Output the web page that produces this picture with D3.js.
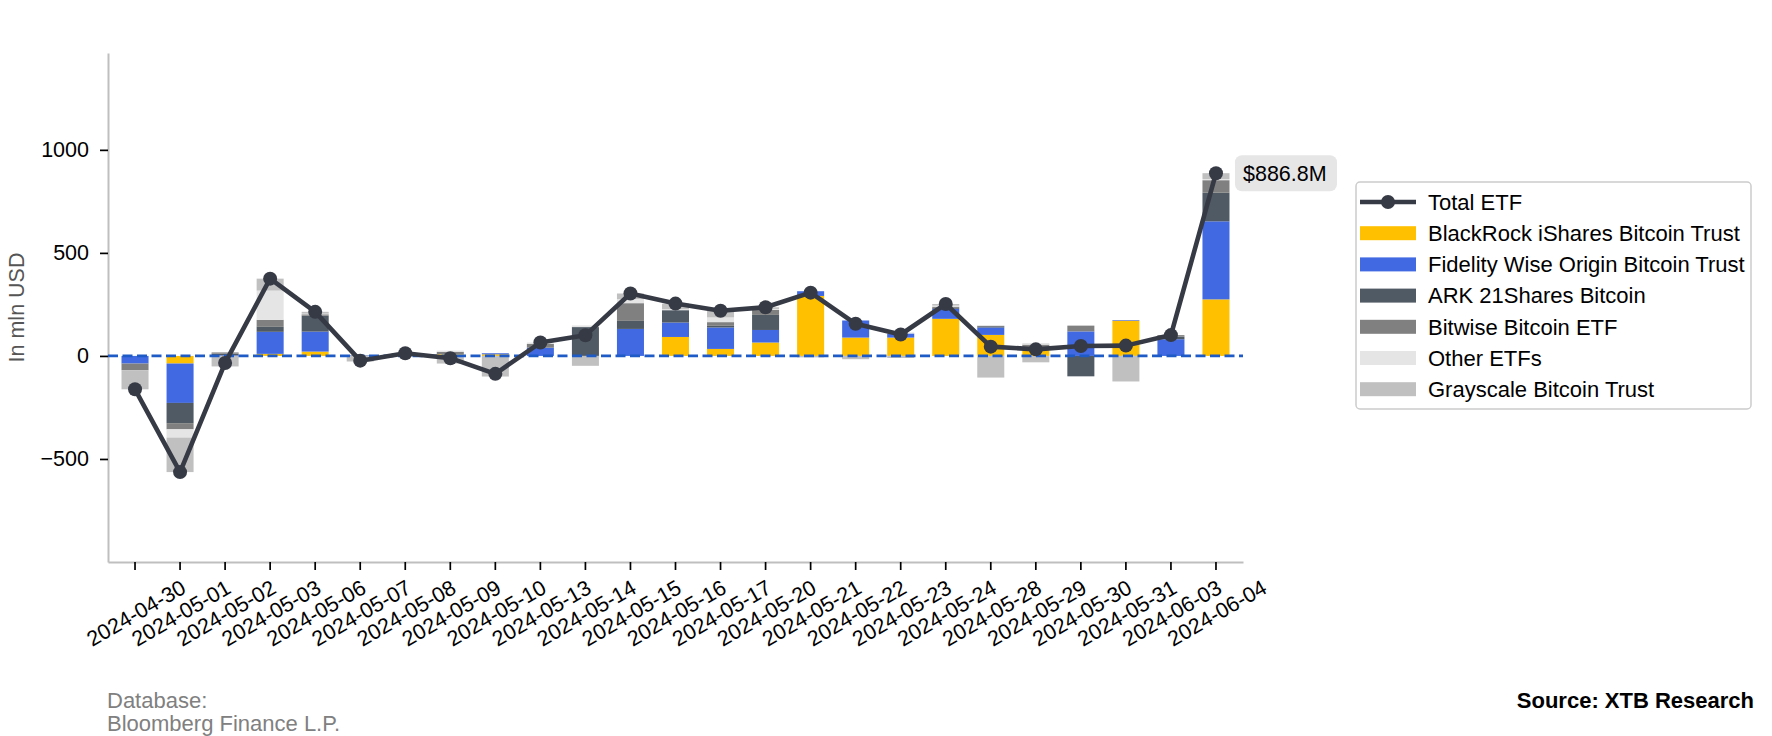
<!DOCTYPE html>
<html>
<head>
<meta charset="utf-8">
<script src="https://cdn.jsdelivr.net/npm/d3@7"></script>
<style>
  body { margin: 0; background: #fff; }
  svg { display: block; font-family: "Liberation Sans", Arial, sans-serif; }
</style>
</head>
<body>
<svg id="chart"></svg>
<script>
// Daily ETF flows, in mln USD
const dates = [
  "2024-04-30", "2024-05-01", "2024-05-02", "2024-05-03", "2024-05-06",
  "2024-05-07", "2024-05-08", "2024-05-09", "2024-05-10", "2024-05-13",
  "2024-05-14", "2024-05-15", "2024-05-16", "2024-05-17", "2024-05-20",
  "2024-05-21", "2024-05-22", "2024-05-23", "2024-05-24", "2024-05-28",
  "2024-05-29", "2024-05-30", "2024-05-31", "2024-06-03", "2024-06-04"
];
const blackrock = [0, -36.9, 0, 10, 21, 0, 0, 8, 8, 0, 0, 0, 92, 34, 65, 291, 89, 89, 180, 102, 40, 0, 171, 0, 274.4];
const fidelity  = [-37, -191.1, 3, 107, 97, 2, 5, 0, 5, 40, 0, 131, 70, 104, 61, 23, 83, 20, 49, 36, 0, 119, 3, 81, 378.7];
const ark       = [0, -98.1, 8, 24, 78, 0, 4, 0, 0, 0, 140, 39, 60, 8, 73, 0, 0, 0, 4, 6, 0, -99, 0, 13, 138.7];
const bitwise   = [-32, -30, 6, 34, 6, 2, 4, 12, 0, 18, 0, 86, 0, 18, 24, 0, 0, 0, 6, 2, 15, 28, 0, 7, 61.0];
const otherEtfs = [0, -40, 0, 142, 3, 0, 0, 6, 0, 7, 8, 20, 5, 23, 5, 0, 0, 5, 5, 4, 8, 0, 0, 0, 5.8];
const grayscale = [-93, -167.6, -51, 58, 9, -27, 0, -37, -100, 0, -48, 27, 27, 32, 8, -7, -16, -10, 8, -105, -31, 0, -124, 0, 28.2];
const totalEtf  = [-162, -563.7, -34, 375, 214, -23, 13, -11, -87, 65, 100, 303, 254, 219, 236, 307, 156, 104, 252, 45, 32, 48, 50, 101, 886.8];

const seriesNames = [
  "BlackRock iShares Bitcoin Trust", "Fidelity Wise Origin Bitcoin Trust",
  "ARK 21Shares Bitcoin", "Bitwise Bitcoin ETF", "Other ETFs", "Grayscale Bitcoin Trust"
];
const seriesValues = [blackrock, fidelity, ark, bitwise, otherEtfs, grayscale];
const seriesColors = ["#FFC000", "#4169E1", "#505A64", "#808080", "#E5E5E5", "#C0C0C0"];
const yTicks = [-500, 0, 500, 1000];

class EtfFlowChart {
  constructor(_config) {
    this.config = {
      parentElement: _config.parentElement,
      containerWidth: 1772,
      containerHeight: 736,
      margin: { top: 53, right: 529, bottom: 174, left: 108 },
      fontSize: 21.5,
      legendFontSize: 22,
    };
    this.initVis();
  }

  initVis() {
    let vis = this;
    const cfg = vis.config;

    vis.width = cfg.containerWidth - cfg.margin.left - cfg.margin.right;
    vis.height = cfg.containerHeight - cfg.margin.top - cfg.margin.bottom;

    vis.svg = d3
      .select(cfg.parentElement)
      .attr("width", cfg.containerWidth)
      .attr("height", cfg.containerHeight);

    vis.chart = vis.svg
      .append("g")
      .attr("transform", `translate(${cfg.margin.left},${cfg.margin.top})`);

    // one row per day, keyed by fund name
    vis.rows = dates.map((d, i) => {
      const row = { date: d };
      seriesNames.forEach((name, k) => (row[name] = seriesValues[k][i]));
      return row;
    });

    vis.xScale = d3
      .scaleBand()
      .domain(dates)
      .range([0, vis.width])
      .paddingInner(0.4)
      .paddingOuter(0.3);

    vis.yScale = d3.scaleLinear().domain([-1000, 1470]).range([vis.height, 0]);

    vis.colorScale = d3.scaleOrdinal().domain(seriesNames).range(seriesColors);

    vis.renderVis();
  }

  renderVis() {
    let vis = this;
    const cfg = vis.config;
    const x = vis.xScale;
    const y = vis.yScale;
    const xMid = (d) => x(d) + x.bandwidth() / 2;

    // stacked bars, positives up and negatives down
    const stacked = d3
      .stack()
      .keys(seriesNames)
      .offset(d3.stackOffsetDiverging)(vis.rows);

    vis.chart
      .append("g")
      .attr("class", "bars")
      .selectAll("g")
      .data(stacked)
      .join("g")
      .attr("fill", (s) => vis.colorScale(s.key))
      .selectAll("rect")
      .data((s) => s)
      .join("rect")
      .attr("x", (d) => x(d.data.date))
      .attr("width", x.bandwidth())
      .attr("y", (d) => Math.min(y(d[0]), y(d[1])))
      .attr("height", (d) => Math.abs(y(d[0]) - y(d[1])));

    // axes
    const xAxis = d3.axisBottom(x).tickSize(8).tickSizeOuter(0);
    const yAxis = d3
      .axisLeft(y)
      .tickValues(yTicks)
      .tickFormat((d) => (d < 0 ? "\u2212" + Math.abs(d) : String(d)))
      .tickSize(8)
      .tickPadding(11)
      .tickSizeOuter(0);

    const xAxisGroup = vis.chart
      .append("g")
      .attr("class", "axis x-axis")
      .attr("transform", `translate(0,${vis.height})`)
      .call(xAxis);

    xAxisGroup
      .selectAll(".tick text")
      .attr("x", 0)
      .attr("y", 0)
      .attr("dy", "0.35em")
      .attr("text-anchor", "middle")
      .attr("transform", "translate(1,51) rotate(-30)");

    vis.chart.append("g").attr("class", "axis y-axis").call(yAxis);

    vis.chart
      .selectAll(".axis")
      .attr("font-family", null)
      .attr("font-size", cfg.fontSize);
    vis.chart.selectAll(".axis .tick text").attr("fill", "#000");
    vis.chart
      .selectAll(".axis .tick line")
      .attr("stroke", "#000")
      .attr("stroke-width", 1.7);
    vis.chart
      .selectAll(".axis .domain")
      .attr("stroke", "#bfbfbf")
      .attr("stroke-width", 2);

    vis.chart
      .append("text")
      .attr("transform", `translate(${16 - cfg.margin.left},${vis.height / 2}) rotate(-90)`)
      .attr("text-anchor", "middle")
      .attr("dy", "0.35em")
      .attr("font-size", cfg.fontSize)
      .attr("fill", "#555")
      .text("In mln USD");

    // zero line
    vis.chart
      .append("line")
      .attr("x1", 0)
      .attr("x2", vis.width)
      .attr("y1", y(0))
      .attr("y2", y(0))
      .attr("stroke", "#1f5bc6")
      .attr("stroke-width", 2.8)
      .attr("stroke-dasharray", "10,4.5");

    // total line with markers
    const totalColor = "#363A45";
    const line = d3
      .line()
      .x((d, i) => xMid(dates[i]))
      .y((d) => y(d));

    vis.chart
      .append("path")
      .datum(totalEtf)
      .attr("fill", "none")
      .attr("stroke", totalColor)
      .attr("stroke-width", 4.6)
      .attr("stroke-linejoin", "round")
      .attr("d", line);

    vis.chart
      .append("g")
      .selectAll("circle")
      .data(totalEtf)
      .join("circle")
      .attr("cx", (d, i) => xMid(dates[i]))
      .attr("cy", (d) => y(d))
      .attr("r", 7)
      .attr("fill", totalColor);

    // last value label
    const last = totalEtf.length - 1;
    const lx = xMid(dates[last]) + 19;
    const ly = y(totalEtf[last]);
    const label = vis.chart.append("g").attr("transform", `translate(${lx},${ly})`);
    label
      .append("rect")
      .attr("x", 0)
      .attr("y", -18)
      .attr("width", 102)
      .attr("height", 36)
      .attr("rx", 7)
      .attr("fill", "#e6e6e6");
    label
      .append("text")
      .attr("x", 8)
      .attr("y", 0)
      .attr("dy", "0.35em")
      .attr("font-size", cfg.fontSize)
      .attr("fill", "#000")
      .text(`$${d3.format(".1f")(totalEtf[last])}M`);

    // legend
    const legend = vis.svg.append("g").attr("transform", "translate(1356,182)");
    legend
      .append("rect")
      .attr("width", 395)
      .attr("height", 227)
      .attr("rx", 4)
      .attr("fill", "#fff")
      .attr("stroke", "#cccccc")
      .attr("stroke-width", 1.5);

    const items = ["Total ETF"].concat(seriesNames);
    const entry = legend
      .selectAll(".entry")
      .data(items)
      .join("g")
      .attr("class", "entry")
      .attr("transform", (d, i) => `translate(0,${20 + i * 31.2})`);

    entry
      .filter((d, i) => i === 0)
      .call((g) => {
        g.append("line")
          .attr("x1", 4)
          .attr("x2", 60)
          .attr("stroke", totalColor)
          .attr("stroke-width", 4.6);
        g.append("circle").attr("cx", 32).attr("r", 7).attr("fill", totalColor);
      });

    entry
      .filter((d, i) => i > 0)
      .append("rect")
      .attr("x", 4)
      .attr("y", -7)
      .attr("width", 56)
      .attr("height", 14)
      .attr("fill", (d) => vis.colorScale(d));

    entry
      .append("text")
      .attr("x", 72)
      .attr("dy", "0.35em")
      .attr("font-size", cfg.legendFontSize)
      .attr("fill", "#000")
      .text((d) => d);

    // footer
    const foot = vis.svg.append("g").attr("font-size", cfg.legendFontSize);
    foot
      .append("text")
      .attr("x", 107)
      .attr("y", 708)
      .attr("fill", "#808080")
      .text("Database:");
    foot
      .append("text")
      .attr("x", 107)
      .attr("y", 731)
      .attr("fill", "#808080")
      .text("Bloomberg Finance L.P.");
    foot
      .append("text")
      .attr("x", 1754)
      .attr("y", 708)
      .attr("text-anchor", "end")
      .attr("font-weight", "bold")
      .attr("fill", "#000")
      .text("Source: XTB Research");
  }
}

new EtfFlowChart({ parentElement: "#chart" });
</script>
</body>
</html>
